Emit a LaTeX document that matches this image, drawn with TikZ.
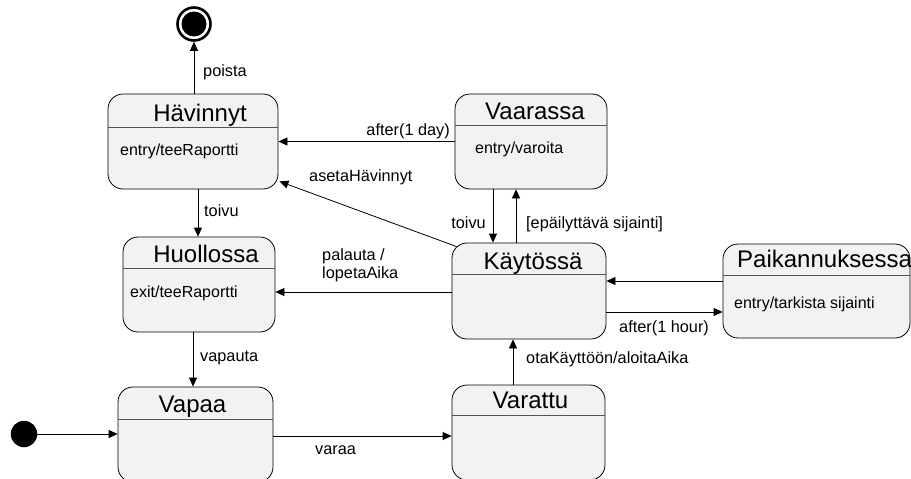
\documentclass[tikz,border=0pt]{standalone}
\usepackage{fontspec}
\setmainfont{Liberation Sans}
\usetikzlibrary{arrows.meta,calc}
\definecolor{statefill}{HTML}{F2F2F2}
\definecolor{divcol}{HTML}{555555}
\tikzset{
  statebox/.style={draw=black, fill=statefill, rounded corners=15pt, inner sep=0pt, line width=0.8pt},
  divline/.style={draw=divcol, line width=0.9pt},
  titletext/.style={inner sep=0pt, anchor=base, font=\fontsize{24}{28}\selectfont},
  bodytext/.style={inner sep=0pt, anchor=base west, font=\fontsize{16}{19}\selectfont},
  lbl/.style={inner sep=0pt, anchor=base west, font=\fontsize{16.3}{19}\selectfont, align=left},
  arr/.style={draw=black, line width=0.8pt, -{Triangle[length=9pt,width=8pt]}},
}
\begin{document}
\begin{tikzpicture}[x=1pt,y=-1pt]
\useasboundingbox (0,0) rectangle (911,479);
\clip (0,0) rectangle (911,479);

% states
\node[statebox, minimum width=170pt, minimum height=95pt] (hav) at (193,141.5) {};
\node[statebox, minimum width=152pt, minimum height=95pt] (vaar) at (531,141.5) {};
\node[statebox, minimum width=152pt, minimum height=95pt] (huol) at (199,284.5) {};
\node[statebox, minimum width=154pt, minimum height=96pt] (kay) at (529,291) {};
\node[statebox, minimum width=187pt, minimum height=94pt] (paik) at (816.5,291) {};
\node[statebox, minimum width=155pt, minimum height=95pt] (vapaa) at (195.5,434.5) {};
\node[statebox, minimum width=153pt, minimum height=95pt] (var) at (528.5,432.5) {};

% dividers
\draw[divline] (hav.west |- 0,127) -- (hav.east |- 0,127);
\draw[divline] (vaar.west |- 0,125) -- (vaar.east |- 0,125);
\draw[divline] (huol.west |- 0,268) -- (huol.east |- 0,268);
\draw[divline] (kay.west |- 0,274) -- (kay.east |- 0,274);
\draw[divline] (paik.west |- 0,275) -- (paik.east |- 0,275);
\draw[divline] (vapaa.west |- 0,419) -- (vapaa.east |- 0,419);
\draw[divline] (var.west |- 0,415) -- (var.east |- 0,415);

% titles
\node[titletext] (havT) at (200,121) {Hävinnyt};
\node[titletext] (vaarT) at (535,119) {Vaarassa};
\node[titletext] (huolT) at (206,262) {Huollossa};
\node[titletext] (kayT) at (533,269) {Käytössä};
\node[titletext, anchor=base west] (paikT) at (737,267) {Paikannuksessa};
\node[titletext] (vapaaT) at (192.5,412) {Vapaa};
\node[titletext] (varT) at (530.5,408) {Varattu};

% bodies
\node[bodytext] (havB) at (120,155) {entry/teeRaportti};
\node[bodytext] (vaarB) at (475,153) {entry/varoita};
\node[bodytext] (huolB) at (130,297) {exit/teeRaportti};
\node[bodytext] (paikB) at (734,308) {entry/tarkista sijainti};

% pseudo states
\node[circle, draw=black, fill=white, line width=2.6pt, minimum size=33pt, inner sep=0pt] (fin) at (194,24) {};
\fill[black] (fin.center) circle (12.5);
\node[circle, fill=black, minimum size=26.5pt, inner sep=0pt] (init) at (24,434) {};

% transitions
\draw[arr] (hav.north -| fin.center) -- (fin.south);
\draw[arr] (vaar.west) -- (hav.east);
\coordinate (asetaS) at ($(kay.north west)+(5,4)$);
\coordinate (asetaE) at ($(hav.south east)+(1,-8)$);
\draw[arr] (asetaS) -- (asetaE);
\draw[arr] (vaar.south -| 493,0) -- (kay.north -| 493,0);
\draw[arr] (kay.north -| 516,0) -- (vaar.south -| 516,0);
\draw[arr] (kay.west |- 0,292) -- (huol.east |- 0,292);
\draw[arr] (paik.west |- 0,281) -- (kay.east |- 0,281);
\draw[arr] (kay.east |- 0,312) -- (paik.west |- 0,312);
\draw[arr] (hav.south -| 198,0) -- (huol.north -| 198,0);
\draw[arr] (huol.south -| 193,0) -- (vapaa.north -| 193,0);
\draw[arr] (init.east) -- (vapaa.west |- init.east);
\draw[arr] (vapaa.east |- 0,436) -- (var.west |- 0,436);
\draw[arr] (var.north -| 513,0) -- (kay.south -| 513,0);

% labels
\node[lbl] (lPoista) at (203,76) {poista};
\node[lbl, anchor=base east] (lDay) at (450,135) {after(1 day)};
\node[lbl] (lAseta) at (309,181) {asetaHävinnyt};
\node[lbl, anchor=base east] (lToivu1) at (486,228) {toivu};
\node[lbl] (lEpa) at (526,228) {[epäilyttävä sijainti]};
\node[lbl] (lPal1) at (322,260) {palauta /};
\node[lbl] (lPal2) at (322,278) {lopetaAika};
\node[lbl] (lToivu2) at (204,216) {toivu};
\node[lbl] (lVap) at (200,361) {vapauta};
\node[lbl] (lVaraa) at (315,454) {varaa};
\node[lbl] (lOta) at (526,363) {otaKäyttöön/aloitaAika};
\node[lbl] (lHour) at (619,332) {after(1 hour)};
\end{tikzpicture}
\end{document}
